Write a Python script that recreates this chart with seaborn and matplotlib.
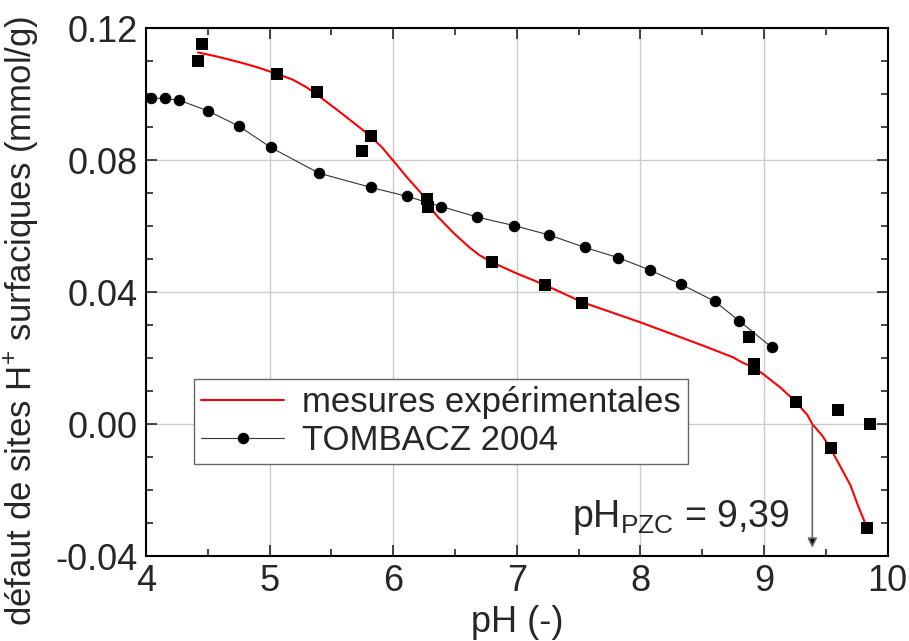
import pandas as pd
import matplotlib
matplotlib.use("Agg")
import matplotlib.pyplot as plt
import seaborn as sns
from matplotlib.ticker import MultipleLocator, FormatStrFormatter

# experimental points (squares)
exp_ph = [4.42, 4.45, 5.06, 5.38, 5.75, 5.82, 6.27, 6.28, 6.80, 7.23, 7.53,
          8.88, 8.92, 8.92, 9.26, 9.54, 9.60, 9.83, 9.86]
exp_val = [0.110, 0.1152, 0.106, 0.1005, 0.0828, 0.0872, 0.0681, 0.0657, 0.0490,
           0.0421, 0.0368, 0.0263, 0.0182, 0.0167, 0.0066, -0.0074, 0.0042, -0.0315, 0.000]

fit_ph = [4.42, 4.57, 4.76, 4.90, 5.06, 5.19, 5.30, 5.43, 5.57, 5.71, 5.81, 5.91,
          6.00, 6.11, 6.22, 6.28, 6.35, 6.49, 6.62, 6.70, 6.80, 7.00, 7.23, 7.53,
          8.00, 8.51, 8.75, 8.81, 8.91, 8.99, 9.13, 9.26, 9.35, 9.39, 9.47, 9.54,
          9.62, 9.70, 9.76, 9.82]
fit_val = [0.1126, 0.1114, 0.1096, 0.1081, 0.1061, 0.1043, 0.1020, 0.0985, 0.0945,
           0.0904, 0.0874, 0.0838, 0.0798, 0.0748, 0.0702, 0.0668, 0.0632, 0.0578,
           0.0534, 0.0511, 0.0490, 0.0456, 0.0421, 0.0369, 0.0308, 0.0237, 0.0202,
           0.0189, 0.0172, 0.0152, 0.0111, 0.0066, 0.0027, 0.0, -0.0035, -0.0076,
           -0.0131, -0.0187, -0.0248, -0.0303]

# TOMBACZ 2004 (circles)
tom_ph = [4.04, 4.15, 4.27, 4.50, 4.75, 5.01, 5.40, 5.82, 6.11, 6.39, 6.68, 6.98,
          7.26, 7.55, 7.82, 8.08, 8.33, 8.60, 8.80, 9.06]
tom_val = [0.0987, 0.0987, 0.0981, 0.0949, 0.0903, 0.0838, 0.0760, 0.0717, 0.0690,
           0.0659, 0.0627, 0.0601, 0.0573, 0.0535, 0.0504, 0.0466, 0.0423, 0.0372,
           0.0312, 0.0233]

ph_pzc = 9.39

sns.set_style("ticks")
plt.rcParams["font.family"] = ["Liberation Sans", "DejaVu Sans"]
plt.rcParams["mathtext.fontset"] = "custom"
plt.rcParams["mathtext.rm"] = "Liberation Sans"
plt.rcParams["mathtext.it"] = "Liberation Sans"

exp_df = pd.DataFrame({"pH": exp_ph, "val": exp_val})
fit_df = pd.DataFrame({"pH": fit_ph, "val": fit_val})
tom_df = pd.DataFrame({"pH": tom_ph, "val": tom_val})

fig = plt.figure(figsize=(9.09, 6.41), dpi=100)
ax = fig.add_axes([0.1606, 0.1326, 0.816, 0.8237])

sns.lineplot(data=fit_df, x="pH", y="val", ax=ax, color="#ff0000", linewidth=1.5,
             estimator=None, sort=False, label="mesures expérimentales", zorder=3)
sns.lineplot(data=tom_df, x="pH", y="val", ax=ax, color="#333333", linewidth=0.8,
             marker="o", markersize=7.5, markerfacecolor="black", markeredgecolor="black",
             estimator=None, sort=False, label="TOMBACZ 2004", zorder=3)
sns.scatterplot(data=exp_df, x="pH", y="val", ax=ax, marker="s", s=70, color="black",
                edgecolor="black", linewidth=0, zorder=4)

# pH_PZC arrow
ax.annotate("", xy=(ph_pzc, -0.0375), xytext=(ph_pzc, 0.0),
            arrowprops=dict(arrowstyle="-|>", color="#666666", lw=1.2,
                            mutation_scale=14, shrinkA=0, shrinkB=0,
                            fc="black", ec="#666666"))
ax.text(7.45, -0.0283, r"pH$_{\mathrm{PZC}}$ = 9,39", fontsize=27, va="center", ha="left")

ax.set_xlim(4, 10)
ax.set_ylim(-0.04, 0.12)
ax.xaxis.set_major_locator(MultipleLocator(1))
ax.xaxis.set_minor_locator(MultipleLocator(0.5))
ax.yaxis.set_major_locator(MultipleLocator(0.04))
ax.yaxis.set_minor_locator(MultipleLocator(0.01))
ax.yaxis.set_major_formatter(FormatStrFormatter("%.2f"))
ax.grid(True, which="major", color="#cccccc", linewidth=1.0)
ax.tick_params(which="both", direction="in", top=True, right=True, width=1.2)
ax.tick_params(which="major", length=8, labelsize=26, pad=6)
ax.tick_params(which="minor", length=5)
for s in ax.spines.values():
    s.set_linewidth(1.5)
    s.set_color("black")

ax.set_xlabel("pH (-)", fontsize=26, labelpad=4)
ax.set_ylabel("défaut de sites H$^{+}$ surfaciques (mmol/g)", fontsize=25)
ax.yaxis.set_label_coords(-0.142, 0.445)

leg = ax.legend(loc="upper left", bbox_to_anchor=(0.065, 0.335), fontsize=25,
                frameon=True, fancybox=False, framealpha=1, edgecolor="#666666",
                handlelength=2.4, borderpad=0.2, labelspacing=0.15, handletextpad=0.5,
                borderaxespad=0)
leg.get_frame().set_linewidth(1.0)

fig.savefig("out.png", dpi=100)
